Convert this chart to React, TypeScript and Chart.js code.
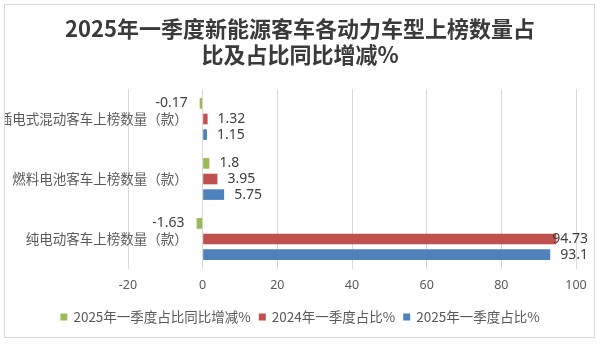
import React, { useEffect, useRef } from 'react';
import { Chart, registerables } from 'chart.js';

Chart.register(...registerables);

const titleLines = ['2025年一季度新能源客车各动力车型上榜数量占', '比及占比同比增减%'];
const categories = ['插电式混动客车上榜数量（款）', '燃料电池客车上榜数量（款）', '纯电动客车上榜数量（款）'];
const seriesNames = ['2025年一季度占比同比增减%', '2024年一季度占比%', '2025年一季度占比%'];
const yoyChange = [-0.17, 1.8, -1.63];
const share2024 = [1.32, 3.95, 94.73];
const share2025 = [1.15, 5.75, 93.1];
const seriesColors = ['#9BBB59', '#C0504D', '#4F81BD'];
const xMin = -20;
const xMax = 100;
const xStep = 20;

const CJK = '"Noto Sans CJK SC", "Noto Sans", sans-serif';
const LATIN = '"Noto Sans", "Noto Sans CJK SC", sans-serif';

const decor = {
  id: 'decor',
  beforeDraw(chart: any) {
    const { ctx, width, height } = chart;
    ctx.save();
    ctx.fillStyle = '#ffffff';
    ctx.fillRect(0, 0, width, height);
    ctx.strokeStyle = '#d9d9d9';
    ctx.lineWidth = 1;
    ctx.strokeRect(4.5, 4.5, 590, 333);
    ctx.restore();
  },
  afterDraw(chart: any) {
    const { ctx } = chart;
    const xs = chart.scales.x;
    const ys = chart.scales.y;
    ctx.save();
    // Title
    ctx.fillStyle = '#3a3a3a';
    ctx.font = `bold 22px ${CJK}`;
    ctx.textAlign = 'center';
    ctx.textBaseline = 'middle';
    ctx.fillText(titleLines[0], 300, 29);
    ctx.fillText(titleLines[1], 300, 55);

    // Category labels near zero axis, clipped by chart frame
    ctx.save();
    ctx.beginPath();
    ctx.rect(5, 5, 589, 332);
    ctx.clip();
    ctx.fillStyle = '#595959';
    ctx.font = `13.5px ${CJK}`;
    ctx.textAlign = 'right';
    ctx.textBaseline = 'middle';
    const zeroX = xs.getPixelForValue(0);
    chart.data.labels.forEach((lab: string, i: number) => {
      ctx.fillText(lab, zeroX - 15, ys.getPixelForValue(i));
    });
    ctx.restore();

    // Data labels
    ctx.fillStyle = '#404040';
    ctx.font = `14px ${LATIN}`;
    ctx.textBaseline = 'middle';
    chart.data.datasets.forEach((ds: any, di: number) => {
      const meta = chart.getDatasetMeta(di);
      meta.data.forEach((el: any, j: number) => {
        const v = ds.data[j];
        const txt = String(v);
        const w = ctx.measureText(txt).width;
        if (v >= 0) {
          let x = el.x + 10;
          if (x + w > 588) x = 588 - w;
          ctx.textAlign = 'left';
          ctx.fillText(txt, x, el.y);
        } else {
          ctx.textAlign = 'right';
          ctx.fillText(txt, Math.min(el.x, el.base) - 12, el.y);
        }
      });
    });

    // Legend
    ctx.font = `13.5px ${CJK}`;
    ctx.textAlign = 'left';
    ctx.textBaseline = 'middle';
    const box = 7;
    const gap = 6;
    const spacing = 8;
    const items = chart.data.datasets.map((ds: any) => ({ label: ds.label, color: ds.backgroundColor, w: ctx.measureText(ds.label).width }));
    const total = items.reduce((s: number, it: any) => s + box + gap + it.w, 0) + spacing * (items.length - 1);
    let lx = 300 - total / 2;
    const ly = 317;
    items.forEach((it: any) => {
      ctx.fillStyle = it.color;
      ctx.fillRect(lx, ly - box / 2, box, box);
      ctx.fillStyle = '#595959';
      ctx.fillText(it.label, lx + box + gap, ly);
      lx += box + gap + it.w + spacing;
    });
    ctx.restore();
  },
};

export default function App() {
  const ref = useRef<HTMLCanvasElement>(null);
  useEffect(() => {
    const canvas = ref.current!;
    const chart = new Chart(canvas, {
      type: 'bar',
      data: {
        labels: categories,
        datasets: [
          { label: seriesNames[0], data: yoyChange, backgroundColor: seriesColors[0] },
          { label: seriesNames[1], data: share2024, backgroundColor: seriesColors[1] },
          { label: seriesNames[2], data: share2025, backgroundColor: seriesColors[2] },
        ],
      },
      options: {
        indexAxis: 'y',
        responsive: false,
        maintainAspectRatio: false,
        animation: false,
        layout: { padding: { left: 120, right: 24, top: 89, bottom: 42 } },
        datasets: { bar: { categoryPercentage: 0.78, barPercentage: 0.68, minBarLength: 3 } },
        scales: {
          x: {
            min: xMin,
            max: xMax,
            ticks: { stepSize: xStep, color: '#595959', font: { family: LATIN, size: 12.5 }, padding: 9 },
            grid: { color: '#d9d9d9', drawTicks: false },
            border: { display: false },
          },
          y: {
            ticks: { display: false },
            grid: { display: false },
            border: { display: false },
          },
        },
        plugins: {
          legend: { display: false },
          title: { display: false },
          tooltip: { enabled: false },
        },
      },
      plugins: [decor],
    } as any);
    return () => chart.destroy();
  }, []);
  return (
    <div style={{ position: 'fixed', left: 0, top: 0, width: 600, height: 344, background: '#fff' }}>
      <canvas ref={ref} width={600} height={344} style={{ display: 'block', width: 600, height: 344 }} />
    </div>
  );
}
